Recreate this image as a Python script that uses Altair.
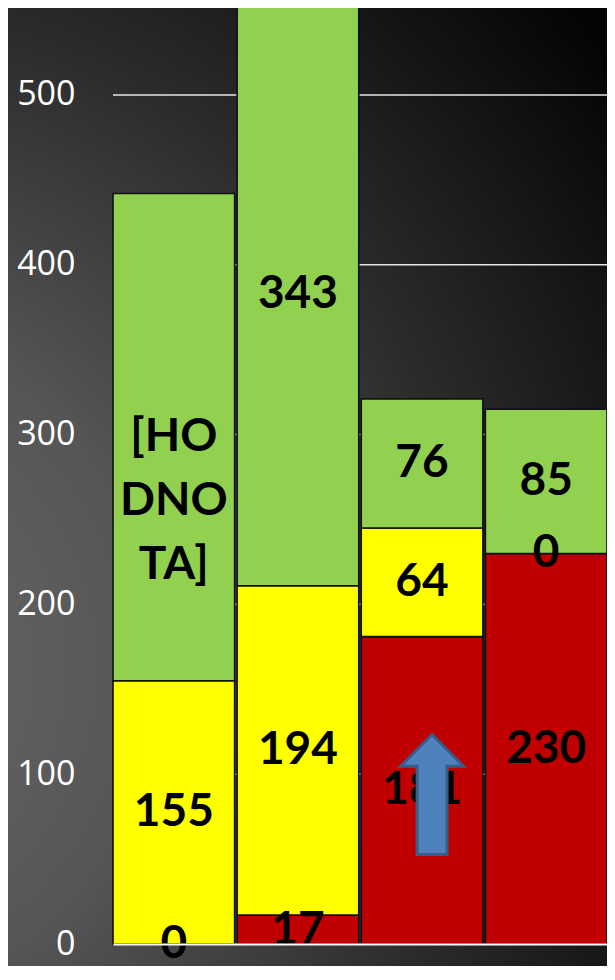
import altair as alt
import pandas as pd

# ---- data ----
categories = ["1", "2", "3", "4"]
series = ["red", "yellow", "green"]
red_values = [0, 17, 181, 230]
yellow_values = [155, 194, 64, 0]
green_values = [287, 343, 76, 85]
red_labels = ["0", "17", "181", "230"]
yellow_labels = ["155", "194", "64", "0"]
green_labels = ["[HO\nDNO\nTA]", "343", "76", "85"]
y_ticks = [0, 100, 200, 300, 400, 500]
grid_values = [100, 200, 300, 400, 500]
arrow_category = ["3"]
arrow_value = [88]

series_colors = ["#c00000", "#ffff00", "#92d050"]

rows = []
for i, c in enumerate(categories):
    start = 0
    for s, vals, labs in (("red", red_values, red_labels),
                          ("yellow", yellow_values, yellow_labels),
                          ("green", green_values, green_labels)):
        v = vals[i]
        rows.append({"cat": c, "series": s, "start": start, "end": start + v,
                     "mid": start + v / 2, "label": labs[i]})
        start += v
df = pd.DataFrame(rows)

PLOT_W = 494
PLOT_H = 936
yscale = alt.Scale(domain=[0, 551.2], nice=False, zero=True)
xscale = alt.Scale(domain=categories, paddingInner=0.02, paddingOuter=0)

bg = alt.Chart(pd.DataFrame({"a": [0]})).mark_rect(
    color={
        "gradient": "radial",
        "x1": 0, "y1": 0.67, "r1": 0,
        "x2": 0, "y2": 0.67, "r2": 1.0,
        "stops": [
            {"offset": 0, "color": "#6b6b6b"},
            {"offset": 0.35, "color": "#555555"},
            {"offset": 0.67, "color": "#2b2b2b"},
            {"offset": 1, "color": "#050505"},
        ],
    }
).encode(x=alt.value(-105), x2=alt.value(500), y=alt.value(-10), y2=alt.value(990))

grid = alt.Chart(pd.DataFrame({"v": grid_values})).mark_rule(
    color="#e6e6e6", strokeWidth=1.6
).encode(y=alt.Y("v:Q", scale=yscale))

bars = alt.Chart(df).mark_bar(stroke="#111111", strokeWidth=1.6).encode(
    x=alt.X("cat:N", scale=xscale,
            axis=alt.Axis(labels=False, ticks=False, title=None, grid=False,
                          domainColor="white", domainWidth=2, zindex=1)),
    y=alt.Y("start:Q", scale=yscale,
            axis=alt.Axis(values=y_ticks, grid=False, ticks=False, domain=False,
                          title=None, labelColor="white", labelFont="Open Sans",
                          labelFontSize=34, labelPadding=38, zindex=1)),
    y2="end:Q",
    color=alt.Color("series:N", scale=alt.Scale(domain=series, range=series_colors),
                    legend=None),
)

texts = alt.Chart(df).mark_text(
    font="Lato", fontWeight="bold", fontSize=46, color="black",
    lineBreak="\n", lineHeight=64, baseline="middle", align="center"
).encode(
    x=alt.X("cat:N", scale=xscale),
    y=alt.Y("mid:Q", scale=yscale),
    text="label:N",
)

arrow_path = "M0,-1 L0.525,-0.47 L0.25,-0.47 L0.25,1 L-0.25,1 L-0.25,-0.47 L-0.525,-0.47 Z"
arrow = alt.Chart(pd.DataFrame({"cat": arrow_category, "v": arrow_value})).mark_point(
    shape=arrow_path, size=14400, filled=True, fill="#4f81bd", stroke="#385d8a",
    strokeWidth=3, opacity=1, xOffset=10
).encode(
    x=alt.X("cat:N", scale=xscale),
    y=alt.Y("v:Q", scale=yscale),
)

chart = alt.layer(bg, grid, bars, texts, arrow).properties(
    width=PLOT_W, height=PLOT_H,
    autosize=alt.AutoSizeParams(type="none"),
    padding={"left": 105, "top": 0, "right": 0, "bottom": 22},
).configure_view(stroke=None)

chart.save("out.html", embed_options={"renderer": "svg", "actions": False})
